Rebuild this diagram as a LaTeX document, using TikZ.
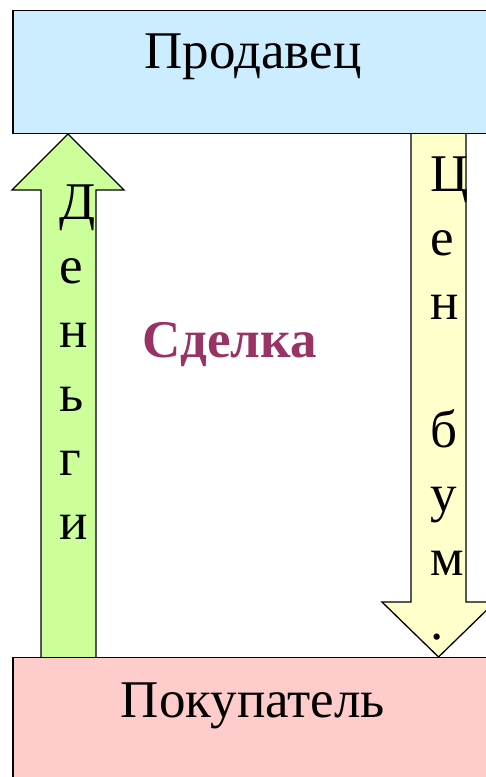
\documentclass[tikz,border=0pt]{standalone}
\usepackage{fontspec}
\setmainfont{Liberation Serif}
\definecolor{sellerblue}{HTML}{CCECFF}
\definecolor{buyerpink}{HTML}{FFCCCC}
\definecolor{moneygreen}{HTML}{CCFF99}
\definecolor{paperyellow}{HTML}{FFFFCC}
\definecolor{dealpurple}{HTML}{993366}
\tikzset{
  party/.style={draw=black, line width=1.5pt, anchor=north west, inner sep=0pt},
  blockarrow/.style={draw=black, line width=1.3pt, line join=miter},
  letter/.style={anchor=base west, inner sep=0pt, font=\fontsize{53}{60}\selectfont},
  partylabel/.style={anchor=base, inner sep=0pt, font=\fontsize{53}{60}\selectfont},
}
\begin{document}
\begin{tikzpicture}[x=1pt,y=1pt]
\useasboundingbox (0,0) rectangle (485,777);

% money flowing up from buyer to seller
\coordinate (mtip) at (68,643);
\path[blockarrow, fill=moneygreen]
  (mtip) -- (124,587) -- (96,587) -- (96,110) -- (41,110) -- (41,587) -- (12,587) -- cycle;

% securities flowing down from seller to buyer
\coordinate (ptip) at (438.5,120);
\path[blockarrow, fill=paperyellow]
  (411,645) -- (466,645) -- (466,175) -- (495,175) -- (ptip) -- (382,175) -- (411,175) -- cycle;

% the two parties
\node[party, fill=sellerblue, minimum width=490pt, minimum height=123pt] (seller) at (12,767) {};
\node[partylabel] (sellerlabel) at (253,777-69) {Продавец};

\node[party, fill=buyerpink, minimum width=490pt, minimum height=130pt] (buyer) at (12,120) {};
\node[partylabel] (buyerlabel) at (253,777-718) {Покупатель};

% vertical captions
\foreach \ch [count=\i] in {Д,е,н,ь,г,и}
  \node[letter] (money\i) at (59,777-220-64*\i+64) {\ch};
\foreach \ch [count=\i] in {Ц,е,н,{},б,у,м,.}
  \node[letter] (paper\i) at (430,777-192-64*\i+64) {\ch};

% the deal
\node[anchor=base, inner sep=0pt, text=dealpurple, font=\fontsize{53}{60}\selectfont\bfseries] (deal) at (229.5,777-358) {Сделка};
\end{tikzpicture}
\end{document}
